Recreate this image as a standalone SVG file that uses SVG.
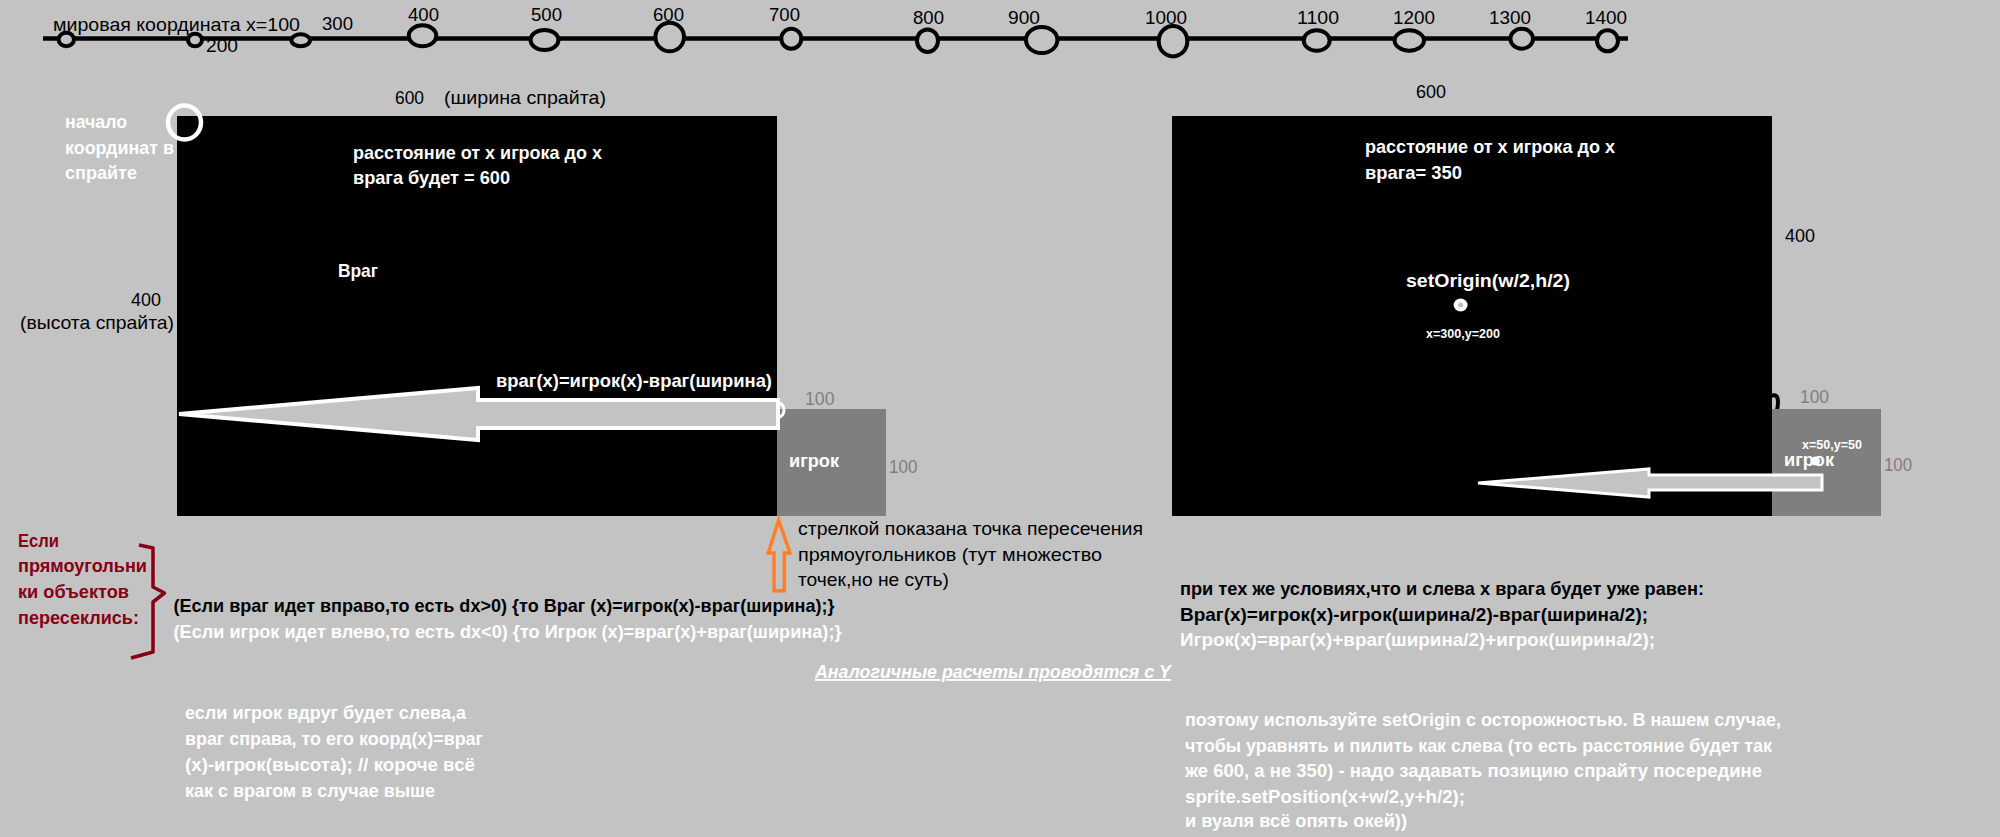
<svg xmlns="http://www.w3.org/2000/svg" width="2000" height="837" viewBox="0 0 2000 837">
<defs>
<style>
text { font-family: "Liberation Sans", Arial, sans-serif; }
.n { font-size: 18.5px; fill: #000; }
.g { font-size: 17.5px; fill: #7f7f7f; }
.w { font-size: 19px; font-weight: bold; fill: #fff; }
.wb { font-size: 19px; font-weight: bold; fill: #000; }
.r { font-size: 19px; font-weight: bold; fill: #880015; }
.s { font-size: 12.5px; font-weight: bold; fill: #fff; }
.tick { fill: #c3c3c3; stroke: #000; stroke-width: 4; }
.sprite { fill: #000; }
.player { fill: #7f7f7f; }
.arr { fill: #c3c3c3; stroke: #fff; stroke-linejoin: miter; }
</style>
</defs>
<rect width="2000" height="837" fill="#c3c3c3"/>

<g id="number-line">
<line x1="43" y1="38.5" x2="1628" y2="38.5" stroke="#000" stroke-width="4.5"/>
<ellipse class="tick" cx="66.3" cy="39.5" rx="7.7" ry="6.8"/>
<ellipse class="tick" cx="195" cy="40" rx="7" ry="6.3"/>
<ellipse class="tick" cx="300.7" cy="40.3" rx="9.3" ry="6"/>
<ellipse class="tick" cx="422.5" cy="35.8" rx="13.8" ry="10.5"/>
<ellipse class="tick" cx="544.5" cy="40" rx="14" ry="10"/>
<ellipse class="tick" cx="669.7" cy="37" rx="14.3" ry="14.3"/>
<ellipse class="tick" cx="791.3" cy="38.7" rx="10" ry="10"/>
<ellipse class="tick" cx="927.5" cy="40.7" rx="10.5" ry="11.3"/>
<ellipse class="tick" cx="1041.7" cy="40" rx="15.7" ry="13"/>
<ellipse class="tick" cx="1173" cy="41.2" rx="14.3" ry="15.2"/>
<ellipse class="tick" cx="1316.7" cy="40.5" rx="13" ry="10.2"/>
<ellipse class="tick" cx="1409.3" cy="40.5" rx="14.7" ry="10.2"/>
<ellipse class="tick" cx="1521.7" cy="38.7" rx="11.3" ry="10"/>
<ellipse class="tick" cx="1607.5" cy="40.8" rx="10.5" ry="10.5"/>
<text class="n" x="53" y="31" textLength="247" lengthAdjust="spacingAndGlyphs">мировая координата x=100</text>
<text class="n" x="206" y="52" textLength="32" lengthAdjust="spacingAndGlyphs">200</text>
<text class="n" x="322" y="30" textLength="31" lengthAdjust="spacingAndGlyphs">300</text>
<text class="n" x="408" y="21" textLength="31" lengthAdjust="spacingAndGlyphs">400</text>
<text class="n" x="531" y="21" textLength="31" lengthAdjust="spacingAndGlyphs">500</text>
<text class="n" x="653" y="21" textLength="31" lengthAdjust="spacingAndGlyphs">600</text>
<text class="n" x="769" y="21" textLength="31" lengthAdjust="spacingAndGlyphs">700</text>
<text class="n" x="913" y="24" textLength="31" lengthAdjust="spacingAndGlyphs">800</text>
<text class="n" x="1008" y="24" textLength="32" lengthAdjust="spacingAndGlyphs">900</text>
<text class="n" x="1145" y="24" textLength="42" lengthAdjust="spacingAndGlyphs">1000</text>
<text class="n" x="1297" y="24" textLength="42" lengthAdjust="spacingAndGlyphs">1100</text>
<text class="n" x="1393" y="24" textLength="42" lengthAdjust="spacingAndGlyphs">1200</text>
<text class="n" x="1489" y="24" textLength="42" lengthAdjust="spacingAndGlyphs">1300</text>
<text class="n" x="1585" y="24" textLength="42" lengthAdjust="spacingAndGlyphs">1400</text>
</g>

<g id="enemy-left">
<rect class="sprite" x="177" y="116" width="600" height="400"/>
<text class="n" x="395" y="104" textLength="29" lengthAdjust="spacingAndGlyphs">600</text>
<text class="n" x="444" y="104" textLength="162" lengthAdjust="spacingAndGlyphs">(ширина спрайта)</text>
<text class="n" x="131" y="306" textLength="30" lengthAdjust="spacingAndGlyphs">400</text>
<text class="n" x="20" y="329" textLength="154" lengthAdjust="spacingAndGlyphs">(высота спрайта)</text>
<ellipse cx="184.5" cy="122.5" rx="16.5" ry="17" fill="none" stroke="#fff" stroke-width="4.5"/>
<text class="w" x="65" y="128" textLength="62" lengthAdjust="spacingAndGlyphs">начало</text>
<text class="w" x="65" y="154" textLength="109" lengthAdjust="spacingAndGlyphs">координат в</text>
<text class="w" x="65" y="179" textLength="72" lengthAdjust="spacingAndGlyphs">спрайте</text>
<text class="w" x="353" y="159" textLength="249" lengthAdjust="spacingAndGlyphs">расстояние от x игрока до x</text>
<text class="w" x="353" y="184" textLength="157" lengthAdjust="spacingAndGlyphs">врага будет = 600</text>
<text class="w" x="338" y="277" textLength="40" lengthAdjust="spacingAndGlyphs">Враг</text>
<text class="w" x="496" y="387" textLength="276" lengthAdjust="spacingAndGlyphs">враг(x)=игрок(x)-враг(ширина)</text>
</g>

<g id="player-left">
<rect class="player" x="777" y="409" width="109" height="107"/>
<text class="g" x="805" y="405" textLength="29.5" lengthAdjust="spacingAndGlyphs">100</text>
<text class="g" x="889" y="473" textLength="28.5" lengthAdjust="spacingAndGlyphs">100</text>
<text class="w" x="789" y="467" textLength="50" lengthAdjust="spacingAndGlyphs">игрок</text>
</g>

<g id="enemy-right">
<rect class="sprite" x="1172" y="116" width="600" height="400"/>
<path d="M1771,396 q7,-3 7,6 q0,9 -4,13 l0,11" fill="none" stroke="#000" stroke-width="4"/>
<text class="n" x="1416" y="98" textLength="30" lengthAdjust="spacingAndGlyphs">600</text>
<text class="n" x="1785" y="242" textLength="30" lengthAdjust="spacingAndGlyphs">400</text>
<text class="w" x="1365" y="153" textLength="250" lengthAdjust="spacingAndGlyphs">расстояние от x игрока до x</text>
<text class="w" x="1365" y="179" textLength="97" lengthAdjust="spacingAndGlyphs">врага= 350</text>
<text class="w" x="1406" y="287" font-size="20" textLength="164" lengthAdjust="spacingAndGlyphs">setOrigin(w/2,h/2)</text>
<ellipse cx="1460.6" cy="305" rx="7" ry="6.5" fill="#fff"/>
<circle cx="1460.6" cy="305" r="2.5" fill="#c0c0c0"/>
<text class="s" x="1426" y="338" textLength="74" lengthAdjust="spacingAndGlyphs">x=300,y=200</text>
</g>

<g id="player-right">
<rect class="player" x="1772" y="409" width="109" height="107"/>
<text class="g" x="1800" y="403" textLength="29" lengthAdjust="spacingAndGlyphs">100</text>
<text class="g" x="1884" y="471" textLength="28" lengthAdjust="spacingAndGlyphs">100</text>
<text class="s" x="1802" y="449" textLength="60" lengthAdjust="spacingAndGlyphs">x=50,y=50</text>
<text class="w" x="1784" y="466" textLength="50" lengthAdjust="spacingAndGlyphs">игрок</text>
<circle cx="1815.5" cy="461" r="4.5" fill="#fff"/>
</g>

<g id="connectors">
<polygon class="arr" stroke-width="4" points="179,414 478,388 478,400 778,400 778,428 478,428 478,440"/>
<path d="M779,403 a5,7 0 0 1 0,14" fill="none" stroke="#fff" stroke-width="3"/>
<polygon class="arr" stroke-width="3" points="1478,483 1649,469 1649,475 1822,475 1822,490 1649,490 1649,497"/>
<polygon points="778.7,520 790,553 784.3,553 784.3,590.7 774,590.7 774,553 768.3,553" fill="#c3c3c3" stroke="#ff7f27" stroke-width="3.5"/>
<path d="M139,545 L153,548 L153,587 L164.5,593 L153,602 L153,652 L131,658" fill="none" stroke="#880015" stroke-width="3.5" stroke-linejoin="round"/>
</g>

<g id="notes-left">
<text class="n" x="798" y="535" textLength="345" lengthAdjust="spacingAndGlyphs">стрелкой показана точка пересечения</text>
<text class="n" x="798" y="561" textLength="304" lengthAdjust="spacingAndGlyphs">прямоугольников (тут множество</text>
<text class="n" x="798" y="586" textLength="151" lengthAdjust="spacingAndGlyphs">точек,но не суть)</text>
<text class="r" x="18" y="547" textLength="41" lengthAdjust="spacingAndGlyphs">Если</text>
<text class="r" x="18" y="572" textLength="129" lengthAdjust="spacingAndGlyphs">прямоугольни</text>
<text class="r" x="18" y="598" textLength="111" lengthAdjust="spacingAndGlyphs">ки объектов</text>
<text class="r" x="18" y="624" textLength="121" lengthAdjust="spacingAndGlyphs">пересеклись:</text>
<text class="wb" x="173.5" y="612" textLength="661" lengthAdjust="spacingAndGlyphs">(Если враг идет вправо,то есть dx&gt;0) {то Враг (x)=игрок(x)-враг(ширина);}</text>
<text class="w" x="173.5" y="638" textLength="668" lengthAdjust="spacingAndGlyphs">(Если игрок идет влево,то есть dx&lt;0) {то Игрок (x)=враг(x)+враг(ширина);}</text>
<text class="w" x="815" y="678" font-style="italic" text-decoration="underline" textLength="356" lengthAdjust="spacingAndGlyphs">Аналогичные расчеты проводятся с Y</text>
<text class="w" x="185" y="719" textLength="281" lengthAdjust="spacingAndGlyphs">если игрок вдруг будет слева,а</text>
<text class="w" x="185" y="745" textLength="298" lengthAdjust="spacingAndGlyphs">враг справа, то его коорд(x)=враг</text>
<text class="w" x="185" y="771" textLength="290" lengthAdjust="spacingAndGlyphs">(x)-игрок(высота); // короче всё</text>
<text class="w" x="185" y="797" textLength="250" lengthAdjust="spacingAndGlyphs">как с врагом в случае выше</text>
</g>

<g id="notes-right">
<text class="wb" x="1180" y="595" textLength="524" lengthAdjust="spacingAndGlyphs">при тех же условиях,что и слева x врага будет уже равен:</text>
<text class="wb" x="1180" y="621" textLength="468" lengthAdjust="spacingAndGlyphs">Враг(x)=игрок(x)-игрок(ширина/2)-враг(ширина/2);</text>
<text class="w" x="1180" y="646" textLength="475" lengthAdjust="spacingAndGlyphs">Игрок(x)=враг(x)+враг(ширина/2)+игрок(ширина/2);</text>
<text class="w" x="1185" y="726" textLength="596" lengthAdjust="spacingAndGlyphs">поэтому используйте setOrigin с осторожностью. В нашем случае,</text>
<text class="w" x="1185" y="752" textLength="587" lengthAdjust="spacingAndGlyphs">чтобы уравнять и пилить как слева (то есть расстояние будет так</text>
<text class="w" x="1185" y="777" textLength="577" lengthAdjust="spacingAndGlyphs">же 600, а не 350) - надо задавать позицию спрайту посередине</text>
<text class="w" x="1185" y="803" textLength="280" lengthAdjust="spacingAndGlyphs">sprite.setPosition(x+w/2,y+h/2);</text>
<text class="w" x="1185" y="827" textLength="222" lengthAdjust="spacingAndGlyphs">и вуаля всё опять окей))</text>
</g>
</svg>
